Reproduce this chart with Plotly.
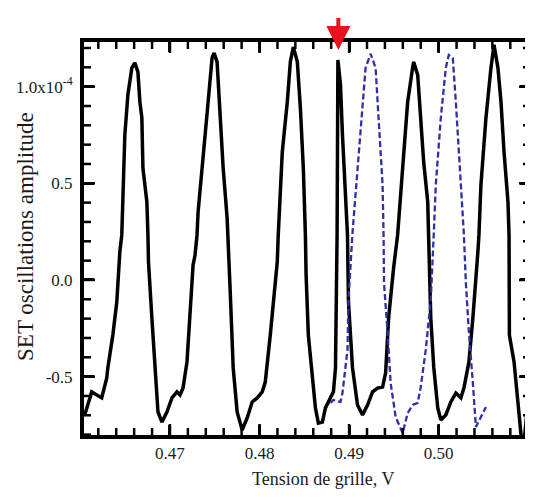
import numpy as np
import plotly.graph_objects as go

# Gate voltage (V) and SET oscillation amplitude (units of 1e-4)
black_x = [0.46048, 0.46126, 0.46238, 0.46294, 0.46306, 0.46362, 0.46406, 0.46440, 0.46462, 0.46496,
           0.46530, 0.46574, 0.46608, 0.46642, 0.46664, 0.46686, 0.46698, 0.46742, 0.46754, 0.46760,
           0.46798, 0.46832, 0.46866, 0.46910, 0.46966, 0.47022, 0.47078, 0.47112, 0.47146, 0.47190,
           0.47224, 0.47258, 0.47280, 0.47302, 0.47314, 0.47370, 0.47426, 0.47470, 0.47493, 0.47526,
           0.47560, 0.47594, 0.47638, 0.47650, 0.47672, 0.47706, 0.47750, 0.47806, 0.47862, 0.47918,
           0.47974, 0.48030, 0.48064, 0.48120, 0.48153, 0.48198, 0.48209, 0.48254, 0.48310, 0.48344,
           0.48377, 0.48422, 0.48456, 0.48489, 0.48512, 0.48520, 0.48545, 0.48590, 0.48624, 0.48657,
           0.48702, 0.48736, 0.48792, 0.48825, 0.48848, 0.48859, 0.48866, 0.48875, 0.48904, 0.48926,
           0.48960, 0.48982, 0.48993, 0.49038, 0.49094, 0.49150, 0.49206, 0.49262, 0.49318, 0.49374,
           0.49408, 0.49441, 0.49497, 0.49542, 0.49598, 0.49654, 0.49710, 0.49721, 0.49766, 0.49800,
           0.49833, 0.49878, 0.49889, 0.49912, 0.49946, 0.49990, 0.50024, 0.50080, 0.50136, 0.50192,
           0.50248, 0.50282, 0.50338, 0.50382, 0.50438, 0.50450, 0.50472, 0.50528, 0.50584, 0.50618,
           0.50662, 0.50696, 0.50730, 0.50774, 0.50786, 0.50790, 0.50842, 0.50886, 0.50920, 0.50950,
           0.50998, 0.51050]
black_y = [-0.698, -0.579, -0.610, -0.507, -0.455, -0.285, -0.114, 0.145, 0.233, 0.750,
           0.957, 1.097, 1.123, 1.076, 0.921, 0.838, 0.579, 0.404, 0.233, 0.093,
           -0.197, -0.455, -0.683, -0.735, -0.683, -0.610, -0.579, -0.595, -0.559, -0.424,
           -0.197, 0.078, 0.129, 0.233, 0.352, 0.662, 0.921, 1.148, 1.174, 1.128,
           0.838, 0.579, 0.321, 0.207, -0.052, -0.455, -0.683, -0.776, -0.714, -0.631,
           -0.610, -0.579, -0.528, -0.285, -0.114, 0.093, 0.233, 0.662, 0.921, 1.128,
           1.205, 1.128, 0.890, 0.579, 0.233, 0.026, -0.285, -0.491, -0.662, -0.740,
           -0.735, -0.662, -0.610, -0.579, -0.455, -0.114, 0.233, 1.138, 1.009, 0.750,
           0.404, 0.233, -0.114, -0.455, -0.647, -0.698, -0.647, -0.579, -0.559, -0.554,
           -0.480, -0.197, 0.062, 0.233, 0.579, 0.921, 1.100, 1.128, 1.061, 0.838,
           0.610, 0.404, 0.233, -0.197, -0.455, -0.662, -0.724, -0.698, -0.631, -0.585,
           -0.610, -0.559, -0.424, -0.197, 0.145, 0.233, 0.491, 0.838, 1.097, 1.216,
           1.097, 0.921, 0.662, 0.404, 0.233, -0.285, -0.424, -0.631, -0.802, -0.860,
           -0.620, -0.450]

blue_x = [0.48792, 0.48825, 0.48904, 0.48926, 0.48982, 0.48993, 0.49038, 0.49094, 0.49150, 0.49184,
          0.49240, 0.49296, 0.49329, 0.49374, 0.49385, 0.49390, 0.49430, 0.49464, 0.49520, 0.49598,
          0.49654, 0.49710, 0.49766, 0.49800, 0.49856, 0.49912, 0.49946, 0.49968, 0.50024, 0.50080,
          0.50113, 0.50158, 0.50192, 0.50226, 0.50270, 0.50282, 0.50304, 0.50338, 0.50382, 0.50416,
          0.50472, 0.50528]
blue_y = [-0.636, -0.621, -0.631, -0.585, -0.362, -0.103, 0.243, 0.579, 0.921, 1.097,
          1.170, 1.097, 0.838, 0.491, 0.233, -0.016, -0.274, -0.533, -0.709, -0.792,
          -0.688, -0.647, -0.636, -0.554, -0.362, -0.103, 0.243, 0.491, 0.838, 1.097,
          1.164, 1.148, 0.921, 0.662, 0.321, 0.233, -0.016, -0.274, -0.533, -0.760,
          -0.709, -0.657]

x_range = [0.4604, 0.5102]
y_range = [-0.802, 1.231]
x_major_step, x_minor_step = 0.01, 0.002
y_major_step, y_minor_step = 0.5, 0.1
y_label_alias = {"1.0": "1.0x10<sup>-4</sup>", "−0.5": "-0.5"}
x_title = "Tension de grille, V"
y_title = "SET oscillations amplitude"
arrow_x = 0.4888
arrow_y = 1.19

SERIF = "Liberation Serif, Times New Roman, serif"
TXT = "#1a1a1a"

fig = go.Figure()
fig.add_trace(go.Scatter(x=black_x, y=black_y, mode="lines",
                         line=dict(color="black", width=3.5), showlegend=False))
fig.add_trace(go.Scatter(x=blue_x, y=blue_y, mode="lines",
                         line=dict(color="#2f2fa8", width=2.3, dash="6px,3px"), showlegend=False))

fig.add_annotation(x=arrow_x, y=arrow_y, xref="x", yref="y", text=" ",
                   showarrow=True, ax=0, ay=-42, arrowhead=2, arrowsize=1.2,
                   arrowwidth=4, arrowcolor="#e8131b")

# axis titles
fig.add_annotation(text=x_title, xref="paper", yref="paper", x=0.536, y=-0.112,
                   xanchor="center", yanchor="middle", showarrow=False,
                   font=dict(family=SERIF, size=18, color=TXT))
fig.add_annotation(text=y_title, xref="paper", yref="paper", x=-0.130, y=0.504,
                   xanchor="center", yanchor="middle", showarrow=False, textangle=-90,
                   font=dict(family=SERIF, size=23, color=TXT))

# inward tick marks on all four sides (major and minor), placed through the axes' scales
def tick_values(lo, hi, step):
    start = np.ceil(lo / step - 1e-9) * step
    return [round(v, 6) for v in np.arange(start, hi + 1e-9, step)]

x_major = tick_values(*x_range, x_major_step)
y_major = tick_values(*y_range, y_major_step)
x_minor = [v for v in tick_values(*x_range, x_minor_step) if all(abs(v - m) > 1e-6 for m in x_major)]
y_minor = [v for v in tick_values(*y_range, y_minor_step) if all(abs(v - m) > 1e-6 for m in y_major)]

tick_line = dict(color="black", width=2.5)
for vals, ln in ((x_major, 11), (x_minor, 7)):
    for v in vals:
        fig.add_shape(type="line", xref="x", yref="paper", ysizemode="pixel", yanchor=0,
                      x0=v, x1=v, y0=0, y1=ln, line=tick_line)
        fig.add_shape(type="line", xref="x", yref="paper", ysizemode="pixel", yanchor=1,
                      x0=v, x1=v, y0=0, y1=-ln, line=tick_line)
for vals, ln in ((y_major, 11), (y_minor, 7)):
    for v in vals:
        fig.add_shape(type="line", xref="paper", yref="y", xsizemode="pixel", xanchor=0,
                      y0=v, y1=v, x0=0, x1=ln, line=tick_line)
        fig.add_shape(type="line", xref="paper", yref="y", xsizemode="pixel", xanchor=1,
                      y0=v, y1=v, x0=0, x1=-ln, line=tick_line)

axis_common = dict(showline=True, linewidth=4, linecolor="black", mirror="allticks",
                   ticks="inside", ticklen=10, tickwidth=2.5, tickcolor="black",
                   showgrid=False, zeroline=False, layer="above traces",
                   tickfont=dict(family=SERIF, size=17, color=TXT))

fig.update_xaxes(range=x_range, tickmode="linear", tick0=0.47, dtick=x_major_step,
                 tickformat=".2f", **axis_common)
fig.update_yaxes(range=y_range, tickmode="linear", tick0=0, dtick=y_major_step,
                 tickformat=".1f", labelalias=y_label_alias, ticklabelstandoff=4,
                 **axis_common)

# page body has an 8px default margin, so the figure is sized to fit the window
fig.update_layout(width=525, height=496, margin=dict(l=76, r=3, t=34, b=69, autoexpand=False),
                  plot_bgcolor="white", paper_bgcolor="white")

fig.write_html("out.html")
